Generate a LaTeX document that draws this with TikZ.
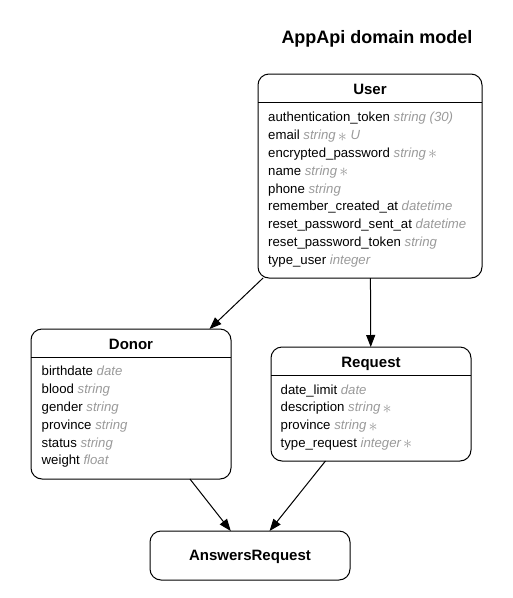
\documentclass[tikz,border=0pt]{standalone}
\usepackage{fontspec}
\usepackage{graphicx}
\setmainfont{Liberation Sans}
\usetikzlibrary{arrows.meta}
\definecolor{typegray}{HTML}{9A9A9A}
\newcommand{\typ}[1]{\textcolor{typegray}{\itshape #1}}
\newcommand{\reqmark}{\,\raisebox{-1.4pt}{\scalebox{1.5}{$\ast$}}}
\begin{document}
\begin{tikzpicture}[x=1pt,y=-1pt,
 box/.style={draw, line width=1pt, rounded corners=11pt, inner sep=0pt, outer sep=0pt},
 head/.style={font=\fontsize{15}{18}\selectfont\bfseries, anchor=base, inner sep=0pt},
 attr/.style={font=\fontsize{13.2}{16}\selectfont, anchor=base west, inner sep=0pt},
 sep/.style={line width=1pt},
 arr/.style={line width=1pt, -{Triangle[length=12pt,width=9pt]}}]
\useasboundingbox (0,0) rectangle (513,598);
\node[font=\fontsize{18}{22}\selectfont\bfseries, anchor=base, inner sep=0pt] (title) at (377,43) {AppApi domain model};
% boxes
\node[box, minimum width=224pt, minimum height=204pt] (user) at (370,176) {};
\node[box, minimum width=200pt, minimum height=150pt] (donor) at (131,404) {};
\node[box, minimum width=200pt, minimum height=114pt] (request) at (371,404) {};
\node[box, minimum width=200pt, minimum height=49pt] (answers) at (250,555.5) {};
% headers
\node[head] (userh) at (370,94) {User};
\node[head] (donorh) at (131,349) {Donor};
\node[head] (requesth) at (371,367) {Request};
\node[head] (answersh) at (250,560) {AnswersRequest};
\draw[sep] (user.west |- 0,102) -- (user.east |- 0,102);
\draw[sep] (donor.west |- 0,357) -- (donor.east |- 0,357);
\draw[sep] (request.west |- 0,375) -- (request.east |- 0,375);
% attributes
\foreach [count=\i] \a/\t in {authentication\_token/{string (30)}, email/{string\reqmark\ U}, encrypted\_password/{string\reqmark}, name/{string\reqmark}, phone/string, remember\_created\_at/datetime, reset\_password\_sent\_at/datetime, reset\_password\_token/string, type\_user/integer}
  \node[attr] (u\i) at (268,{121.8+17.8*(\i-1)}) {\a\ \typ{\t}};
\foreach [count=\i] \a/\t in {birthdate/date, blood/string, gender/string, province/string, status/string, weight/float}
  \node[attr] (d\i) at (41.5,{375.8+17.8*(\i-1)}) {\a\ \typ{\t}};
\foreach [count=\i] \a/\t in {date\_limit/date, description/{string\reqmark}, province/{string\reqmark}, type\_request/{integer\reqmark}}
  \node[attr] (r\i) at (280.5,{394+17.8*(\i-1)}) {\a\ \typ{\t}};
% connectors
\draw[arr] (user) -- (donor);
\draw[arr] (user) -- (request);
\draw[arr] (donor) -- (answers);
\draw[arr] (request) -- (answers);
\end{tikzpicture}
\end{document}
